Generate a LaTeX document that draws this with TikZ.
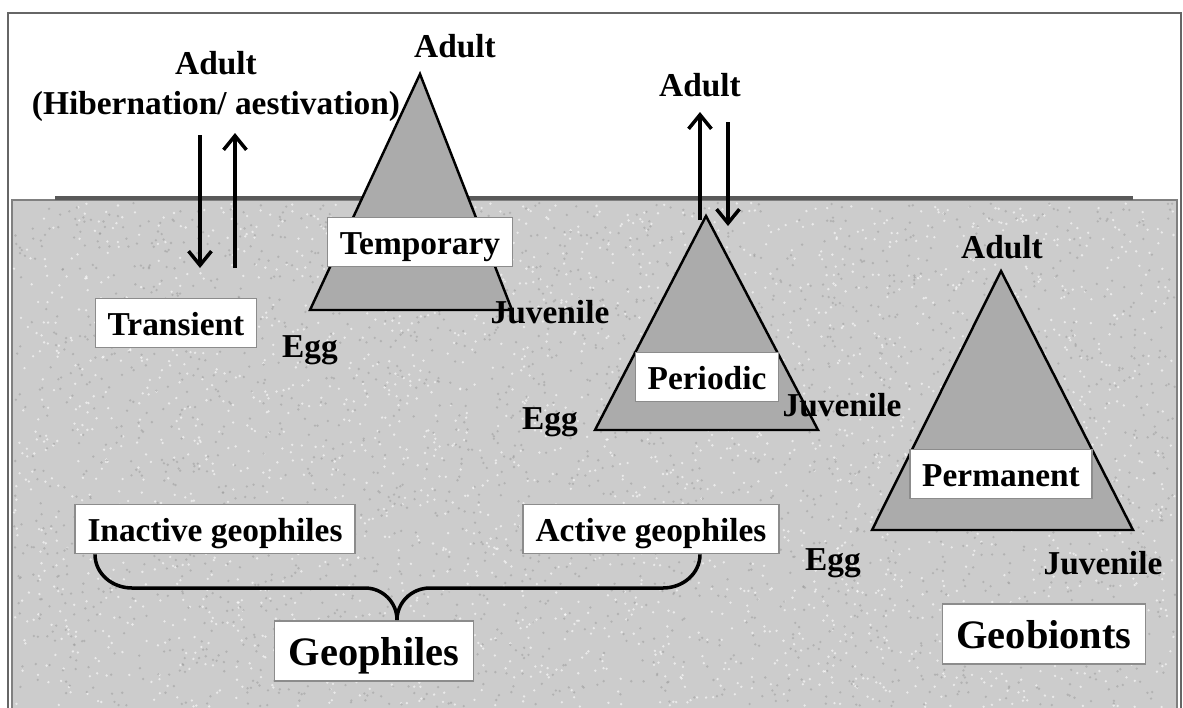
\documentclass[tikz,border=0pt]{standalone}
\usepackage{fontspec}
\setmainfont{Liberation Serif}
\usetikzlibrary{arrows.meta,positioning}

\begin{document}
\begin{tikzpicture}[x=0.02cm,y=-0.02cm,
labelbox/.style={draw=black!45, fill=white, line width=0.9pt, inner xsep=7pt, inner ysep=0pt, text height=17pt, text depth=2.5pt, minimum height=28pt, font=\bfseries\fontsize{19}{21}\selectfont},
bigbox/.style={labelbox, minimum height=34pt, inner xsep=8pt, text height=20pt, text depth=3pt, font=\bfseries\fontsize{23}{26}\selectfont},
stage/.style={inner sep=1pt, font=\bfseries\fontsize{19}{22}\selectfont},
pyramid/.style={draw=black, fill=black!33, line width=1.4pt},
move/.style={-{Straight Barb[length=8pt,width=13pt,line width=2pt]}, line width=2pt},
brace/.style={line width=2pt},
]
\useasboundingbox (0,0) rectangle (1183,707);
% frame and soil
\draw[black!60, line width=1pt] (8,13) rectangle (1181,720);
\draw[black!50, fill=black!20, line width=1pt] (12,200) rectangle (1177,712);
\pgfmathsetseed{7}
\foreach \i in {1,...,2500}
  \fill[white, opacity=0.6] ({14+rnd*1161},{203+rnd*504}) circle (1.3);
\foreach \i in {1,...,2500}
  \fill[black!40, opacity=0.5] ({14+rnd*1161},{203+rnd*504}) circle (1.3);
\draw[black!65, line width=2.4pt] (55,198) -- (1133,198);

% transient
\node[stage] (adultA) at (216,63) {Adult};
\node[stage, below=7pt of adultA] (hib) {(Hibernation/ aestivation)};
\node[labelbox] (trans) at (176,323) {Transient};
\coordinate (downA) at (200,135);
\coordinate (downB) at (200,268);
\coordinate (upA) at (235,268);
\coordinate (upB) at (235,133);
\draw[move] (downA) -- (downB);
\draw[move] (upA) -- (upB);

% temporary
\coordinate (tpTop) at (420,74);
\coordinate (tpLeft) at (310,310);
\coordinate (tpRight) at (512,310);
\draw[pyramid] (tpTop) -- (tpRight) -- (tpLeft) -- cycle;
\node[stage] (adultB) at (455,46) {Adult};
\node[labelbox] (temp) at (420,242) {Temporary};
\node[stage] (eggB) at (310,350) {Egg};
\node[stage] (juvB) at (550,312) {Juvenile};

% periodic
\coordinate (pdTop) at (706,216);
\coordinate (pdLeft) at (595,430);
\coordinate (pdRight) at (818,430);
\draw[pyramid] (pdTop) -- (pdRight) -- (pdLeft) -- cycle;
\node[stage] (adultC) at (700,85) {Adult};
\node[labelbox] (peri) at (707,377) {Periodic};
\node[stage] (eggC) at (550,422) {Egg};
\node[stage] (juvC) at (842,405) {Juvenile};
\coordinate (pupA) at (700,220);
\coordinate (pupB) at (700,112);
\coordinate (pdnA) at (728,122);
\coordinate (pdnB) at (728,226);
\draw[move] (pupA) -- (pupB);
\draw[move] (pdnA) -- (pdnB);

% permanent
\coordinate (pmTop) at (1001,271);
\coordinate (pmLeft) at (872,530);
\coordinate (pmRight) at (1133,530);
\draw[pyramid] (pmTop) -- (pmRight) -- (pmLeft) -- cycle;
\node[stage] (adultD) at (1002,247) {Adult};
\node[labelbox] (perm) at (1001,474) {Permanent};
\node[stage] (eggD) at (833,563) {Egg};
\node[stage] (juvD) at (1103,563) {Juvenile};
\node[bigbox] (geob) at (1044,634) {Geobionts};

% geophiles
\node[labelbox] (inact) at (215,529) {Inactive geophiles};
\node[labelbox] (act) at (651,529) {Active geophiles};
\node[bigbox] (geoph) at (374,651) {Geophiles};
\coordinate (tip) at (397,620);
\draw[brace] (inact.south -| 95,0) to[out=-90,in=180] (132,588) -- (365,588) to[out=0,in=90] (tip);
\draw[brace] (act.south -| 700,0) to[out=-90,in=0] (663,588) -- (430,588) to[out=180,in=90] (tip);

\end{tikzpicture}
\end{document}
